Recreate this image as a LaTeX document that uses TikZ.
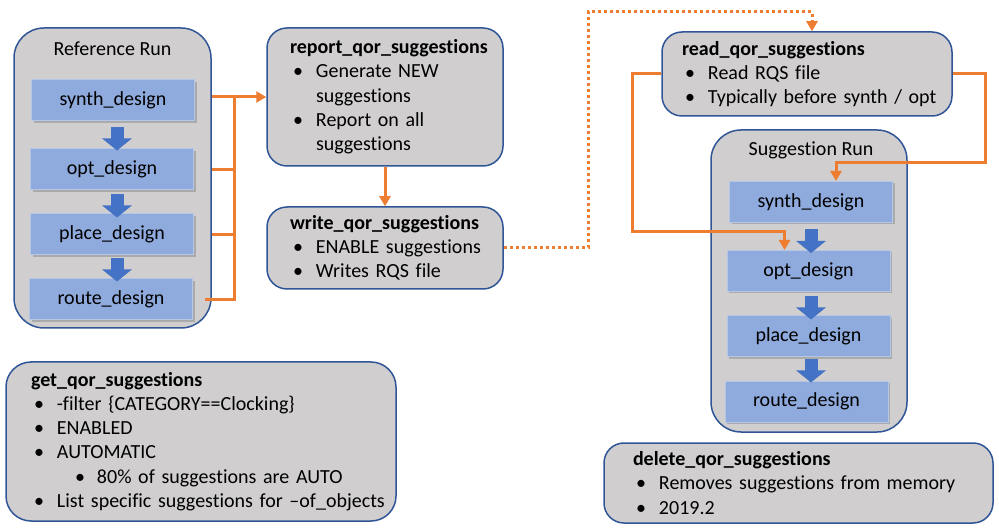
\documentclass[tikz,border=0pt]{standalone}
\usepackage{fontspec}
\setmainfont{Carlito}[Ligatures=NoCommon]
\usetikzlibrary{arrows.meta, shadows}

\definecolor{grpfill}{RGB}{208,206,206}
\definecolor{grpline}{RGB}{47,85,151}
\definecolor{stepfill}{RGB}{143,170,220}
\definecolor{stepline}{RGB}{180,199,231}
\definecolor{blkblue}{RGB}{68,114,196}
\definecolor{wireorange}{RGB}{237,125,49}

\newcommand{\btitle}[1]{\mbox{\textbf{#1}}}
\newcommand{\bitem}[1]{\mbox{\makebox[26pt][l]{\hspace{3pt}\textbullet}#1}}
\newcommand{\bcont}[1]{\mbox{\hspace*{26pt}#1}}
\newcommand{\bsub}[1]{\mbox{\makebox[66pt][l]{\hspace{44pt}\textbullet}#1}}

\tikzset{
  runbox/.style={draw=grpline, fill=grpfill, line width=1.5pt, rounded corners=30pt,
    minimum width=#1, inner sep=0pt},
  cmdbox/.style={draw=grpline, fill=grpfill, line width=1.5pt, rounded corners=20pt,
    align=left, inner ysep=0pt},
  stepbox/.style={draw=stepline, fill=stepfill, line width=1pt, minimum width=163pt,
    minimum height=41pt, inner sep=0pt,
    drop shadow={shadow xshift=2pt, shadow yshift=-2pt, opacity=0.45}},
  blkarrow/.style={draw=blkblue, line width=13pt, -{Triangle[width=29pt,length=12pt]}},
  wire/.style={draw=wireorange, line width=3pt},
  wiretip/.style={wire, -{Triangle[width=11pt,length=10pt]}},
  dotwire/.style={wire, dash pattern=on 3pt off 3pt, -{Triangle[width=11pt,length=10pt]}}
}

\begin{document}
\begin{tikzpicture}[x=1pt, y=-1pt, font=\fontsize{20}{24.3}\selectfont]
  \useasboundingbox (0,0) rectangle (999,529);

  % reference run
  \node[runbox=197pt, minimum height=300pt] (refrun) at (112.5,178) {};
  \node (reftitle) at (112.5,49) {Reference Run};
  \node[stepbox] (rsynth) at (113,100.5) {synth\_design};
  \node[stepbox] (ropt) at (112,169.5) {opt\_design};
  \node[stepbox] (rplace) at (112,234.5) {place\_design};
  \node[stepbox] (rroute) at (111,299.5) {route\_design};
  \draw[blkarrow] ([xshift=4pt,yshift=-6pt]rsynth.south) -- ([xshift=5pt,yshift=-2pt]ropt.north);
  \draw[blkarrow] ([xshift=5pt,yshift=-4pt]ropt.south) -- ([xshift=5pt,yshift=-4pt]rplace.north);
  \draw[blkarrow] ([xshift=5pt,yshift=-3pt]rplace.south) -- ([xshift=6pt,yshift=-3pt]rroute.north);

  % commands
  \node[cmdbox, text width=190pt, inner xsep=23pt, minimum height=138pt] (report) at (385,97)
    {\btitle{report\_qor\_suggestions}\\ \bitem{Generate NEW}\\ \bcont{suggestions}\\
     \bitem{Report on all}\\ \bcont{suggestions}};
  \node[cmdbox, text width=190pt, inner xsep=23pt, minimum height=82pt] (write) at (385,248)
    {\btitle{write\_qor\_suggestions}\\ \bitem{ENABLE suggestions}\\ \bitem{Writes RQS file}};
  \node[cmdbox, text width=250pt, inner xsep=20pt, minimum height=84pt] (read) at (807,74)
    {\btitle{read\_qor\_suggestions}\\ \bitem{Read RQS file}\\ \bitem{Typically before synth / opt}};
  \node[cmdbox, rounded corners=25pt, text width=340pt, inner xsep=25pt, minimum height=159pt] (getqor) at (201,441.5)
    {\btitle{get\_qor\_suggestions}\\ \bitem{-filter \{CATEGORY==Clocking\}}\\ \bitem{ENABLED}\\
     \bitem{AUTOMATIC}\\ \bsub{80\% of suggestions are AUTO}\\ \bitem{List specific suggestions for –of\_objects}};
  \node[cmdbox, text width=331pt, inner xsep=29pt, minimum height=80pt] (delqor) at (798.5,483)
    {\btitle{delete\_qor\_suggestions}\\ \bitem{Removes suggestions from memory}\\ \bitem{2019.2}};

  % suggestion run
  \node[runbox=196pt, minimum height=302pt] (sugrun) at (809,281) {};
  \node (sugtitle) at (811,150) {Suggestion Run};
  \node[stepbox] (ssynth) at (811,202) {synth\_design};
  \node[stepbox] (sopt) at (808.5,271) {opt\_design};
  \node[stepbox] (splace) at (808.5,336.5) {place\_design};
  \node[stepbox] (sroute) at (806.5,401.5) {route\_design};
  \draw[blkarrow] ([yshift=-6pt]ssynth.south) -- ([xshift=2.5pt,yshift=-3pt]sopt.north);
  \draw[blkarrow] ([xshift=2.5pt,yshift=-4pt]sopt.south) -- ([xshift=2.5pt,yshift=-4pt]splace.north);
  \draw[blkarrow] ([xshift=2.5pt,yshift=-2pt]splace.south) -- ([xshift=4.5pt,yshift=-2pt]sroute.north);

  % orange wires
  \coordinate (bus) at (234,97);
  \draw[wiretip] (refrun.east |- report.west) -- (report.west);
  \draw[wire] (bus) |- ([xshift=-7pt]refrun.east |- rroute);
  \draw[wire] (refrun.east |- ropt) -- (bus |- ropt);
  \draw[wire] (refrun.east |- rplace) -- (bus |- rplace);
  \draw[wiretip] (report) -- (write);
  \coordinate (dotturn) at (588,12);
  \draw[dotwire] (write.east) -| (dotturn) -| ([xshift=5pt]read.north);
  \coordinate (lturn) at (632,232);
  \draw[wiretip] (read.west) -| (lturn) -| ([xshift=-24pt]sopt.north);
  \coordinate (rturn) at (985,163);
  \draw[wiretip] (read.east) -| (rturn) -| ([xshift=25pt]ssynth.north);
\end{tikzpicture}
\end{document}
